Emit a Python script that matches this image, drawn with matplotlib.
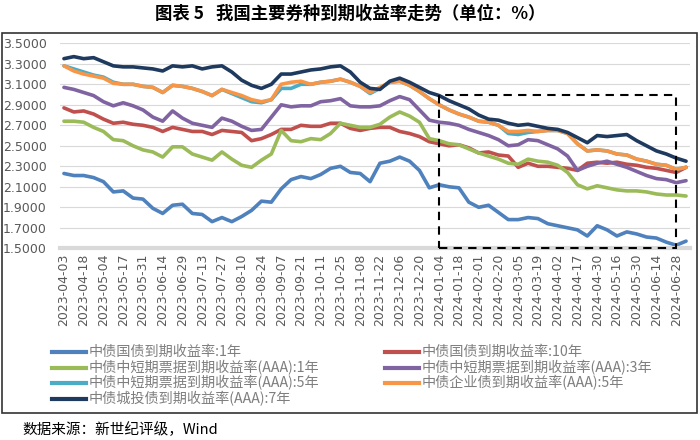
import numpy as np
import matplotlib
matplotlib.use("Agg")
import matplotlib.pyplot as plt
from matplotlib.lines import Line2D
from matplotlib.patches import Rectangle

plt.rcParams['font.family'] = ['Noto Sans CJK SC', 'DejaVu Sans']

# tick labels, one every 10 trading days (data points are every 5 trading days)
tick_labels = [
    "2023-04-03", "2023-04-18", "2023-05-04", "2023-05-17", "2023-05-31",
    "2023-06-14", "2023-06-29", "2023-07-13", "2023-07-27", "2023-08-10",
    "2023-08-24", "2023-09-07", "2023-09-21", "2023-10-11", "2023-10-25",
    "2023-11-08", "2023-11-22", "2023-12-06", "2023-12-20", "2024-01-04",
    "2024-01-18", "2024-02-01", "2024-02-20", "2024-03-05", "2024-03-19",
    "2024-04-02", "2024-04-17", "2024-04-30", "2024-05-16", "2024-05-30",
    "2024-06-14", "2024-06-28",
]

gov1 = [2.23, 2.21, 2.21, 2.19, 2.15, 2.05, 2.06, 1.99, 1.98, 1.89, 1.84,
        1.92, 1.93, 1.84, 1.83, 1.76, 1.80, 1.76, 1.81, 1.87, 1.96,
        1.95, 2.08, 2.17, 2.20, 2.18, 2.22, 2.28, 2.30, 2.24, 2.23, 2.15,
        2.33, 2.35, 2.39, 2.35, 2.26, 2.09, 2.12, 2.10, 2.09, 1.95, 1.90,
        1.92, 1.85, 1.78, 1.78, 1.80, 1.79, 1.74, 1.72, 1.70, 1.68, 1.62,
        1.72, 1.68, 1.62, 1.66, 1.64, 1.61, 1.60, 1.56, 1.53, 1.57]

gov10 = [2.87, 2.83, 2.84, 2.81, 2.76, 2.72, 2.73, 2.71, 2.70, 2.68, 2.64,
         2.68, 2.66, 2.64, 2.64, 2.61, 2.65, 2.64, 2.63, 2.55, 2.57,
         2.61, 2.66, 2.66, 2.70, 2.69, 2.69, 2.72, 2.72, 2.67, 2.65, 2.67,
         2.68, 2.68, 2.64, 2.62, 2.59, 2.54, 2.52, 2.50, 2.51, 2.48, 2.43,
         2.44, 2.41, 2.40, 2.29, 2.33, 2.30, 2.30, 2.29, 2.28, 2.26, 2.33,
         2.34, 2.33, 2.34, 2.32, 2.31, 2.29, 2.28, 2.26, 2.24, 2.29]

cp1 = [2.74, 2.74, 2.73, 2.68, 2.64, 2.56, 2.55, 2.50, 2.46, 2.44, 2.39,
       2.49, 2.49, 2.42, 2.39, 2.36, 2.44, 2.37, 2.31, 2.29, 2.36,
       2.42, 2.65, 2.55, 2.54, 2.57, 2.56, 2.62, 2.72, 2.70, 2.68, 2.68,
       2.71, 2.78, 2.83, 2.79, 2.73, 2.57, 2.55, 2.52, 2.51, 2.47, 2.43,
       2.40, 2.37, 2.33, 2.32, 2.37, 2.35, 2.34, 2.31, 2.24, 2.12, 2.08,
       2.11, 2.09, 2.07, 2.06, 2.06, 2.05, 2.03, 2.02, 2.02, 2.01]

cp3 = [3.07, 3.05, 3.02, 2.99, 2.93, 2.89, 2.92, 2.89, 2.85, 2.78, 2.74,
       2.84, 2.77, 2.72, 2.70, 2.68, 2.77, 2.74, 2.69, 2.65, 2.66,
       2.78, 2.90, 2.88, 2.89, 2.89, 2.93, 2.94, 2.96, 2.89, 2.88, 2.88,
       2.89, 2.94, 2.98, 2.95, 2.85, 2.75, 2.73, 2.72, 2.70, 2.66, 2.63,
       2.60, 2.56, 2.50, 2.51, 2.56, 2.55, 2.51, 2.47, 2.40, 2.26, 2.30,
       2.33, 2.35, 2.32, 2.29, 2.25, 2.21, 2.18, 2.17, 2.14, 2.16]

cp5 = [3.28, 3.25, 3.22, 3.19, 3.17, 3.12, 3.10, 3.10, 3.08, 3.07, 3.02,
       3.09, 3.08, 3.06, 3.03, 2.99, 3.05, 3.01, 2.97, 2.93, 2.92,
       2.95, 3.06, 3.06, 3.10, 3.10, 3.12, 3.13, 3.15, 3.12, 3.08, 3.01,
       3.06, 3.12, 3.13, 3.09, 3.03, 2.96, 2.90, 2.85, 2.81, 2.78, 2.74,
       2.73, 2.70, 2.62, 2.61, 2.63, 2.64, 2.65, 2.65, 2.62, 2.52, 2.45,
       2.46, 2.45, 2.42, 2.41, 2.37, 2.35, 2.32, 2.31, 2.27, 2.29]

ent5 = [3.28, 3.23, 3.20, 3.18, 3.16, 3.11, 3.10, 3.10, 3.08, 3.07, 3.02,
        3.09, 3.08, 3.06, 3.03, 2.99, 3.05, 3.02, 2.99, 2.95, 2.93,
        2.95, 3.10, 3.12, 3.13, 3.10, 3.12, 3.13, 3.15, 3.12, 3.08, 3.02,
        3.07, 3.12, 3.13, 3.09, 3.03, 2.96, 2.90, 2.85, 2.81, 2.78, 2.74,
        2.73, 2.70, 2.64, 2.64, 2.65, 2.64, 2.65, 2.65, 2.62, 2.52, 2.45,
        2.46, 2.45, 2.42, 2.41, 2.37, 2.35, 2.32, 2.31, 2.27, 2.29]

city7 = [3.35, 3.37, 3.35, 3.36, 3.32, 3.28, 3.27, 3.27, 3.26, 3.25, 3.23,
         3.28, 3.27, 3.28, 3.25, 3.27, 3.28, 3.22, 3.14, 3.09, 3.06,
         3.10, 3.20, 3.20, 3.22, 3.24, 3.25, 3.27, 3.28, 3.22, 3.12, 3.06,
         3.05, 3.13, 3.16, 3.12, 3.07, 3.02, 2.99, 2.94, 2.90, 2.86, 2.80,
         2.76, 2.75, 2.72, 2.70, 2.71, 2.69, 2.67, 2.66, 2.63, 2.58, 2.53,
         2.60, 2.59, 2.60, 2.61, 2.55, 2.50, 2.45, 2.42, 2.38, 2.35]

names = ["中债国债到期收益率:1年", "中债国债到期收益率:10年",
         "中债中短期票据到期收益率(AAA):1年", "中债中短期票据到期收益率(AAA):3年",
         "中债中短期票据到期收益率(AAA):5年", "中债企业债到期收益率(AAA):5年",
         "中债城投债到期收益率(AAA):7年"]
series = [gov1, gov10, cp1, cp3, cp5, ent5, city7]
colors = ["#4f81bd", "#c0504d", "#9bbb59", "#8064a2", "#4bacc6", "#f79646", "#1f3a5f"]

box_start, box_end = "2024-01-04", "2024-06-28"
box_low, box_high = 1.5, 3.0

fig = plt.figure(figsize=(7, 4.4), dpi=100)
ax = fig.add_axes([60 / 700, 1 - 248.3 / 440, 630 / 700, (248.3 - 43.3) / 440])

x = np.arange(len(gov1))
for vals, c in zip(series, colors):
    ax.plot(x, vals, color=c, lw=2.6, solid_capstyle='round')

ticks = np.arange(len(tick_labels)) * 2
ax.set_xticks(ticks)
ax.set_xticklabels(tick_labels, rotation=90, fontsize=9, color='#595959',
                   family='DejaVu Sans')
ax.set_xlim(-0.4, 63.4)
ax.set_ylim(1.5, 3.5)
yt = np.arange(1.5, 3.51, 0.2)
ax.set_yticks(yt)
ax.set_yticklabels([f"{v:.4f}" for v in yt], fontsize=9, color='#595959',
                   family='DejaVu Sans')
ax.tick_params(axis='both', length=0)
ax.tick_params(axis='y', pad=9.5)
ax.tick_params(axis='x', pad=4)
ax.yaxis.grid(True, color='#d9d9d9', lw=0.8)
ax.set_axisbelow(True)
for s in ['top', 'right', 'left']:
    ax.spines[s].set_visible(False)
ax.spines['bottom'].set_color('#d9d9d9')
ax.spines['bottom'].set_linewidth(3)

x0 = ticks[tick_labels.index(box_start)]
x1 = ticks[tick_labels.index(box_end)]
ax.add_patch(Rectangle((x0, box_low), x1 - x0, box_high - box_low, fill=False,
                       ec='black', lw=1.5, ls=(0, (4, 3)), zorder=5, clip_on=False))

# legend, filled row by row like the original
for i, (name, c) in enumerate(zip(names, colors)):
    row, col = divmod(i, 2)
    lx = (52 + col * 333) / 700
    ly = 1 - (352 + row * 15.5) / 440
    fig.add_artist(Line2D([lx, lx + 34 / 700], [ly, ly], color=c, lw=3,
                          transform=fig.transFigure))
    fig.text(lx + 37 / 700, ly, name, fontsize=10.2, color='#7f7f7f', va='center')

# outer frame
fig.add_artist(Rectangle((2 / 700, 1 - 413 / 440), 695 / 700, 380 / 440,
                         fill=False, ec='#333333', lw=1.2, transform=fig.transFigure))

fig.text(0.5, 1 - 14 / 440, "图表 5   我国主要券种到期收益率走势（单位：%）",
         ha='center', va='center', fontsize=12.5, weight='bold')
fig.text(22 / 700, 1 - 430 / 440, "数据来源：新世纪评级，Wind", fontsize=10.5,
         va='center')

fig.savefig("out.png", dpi=100)
